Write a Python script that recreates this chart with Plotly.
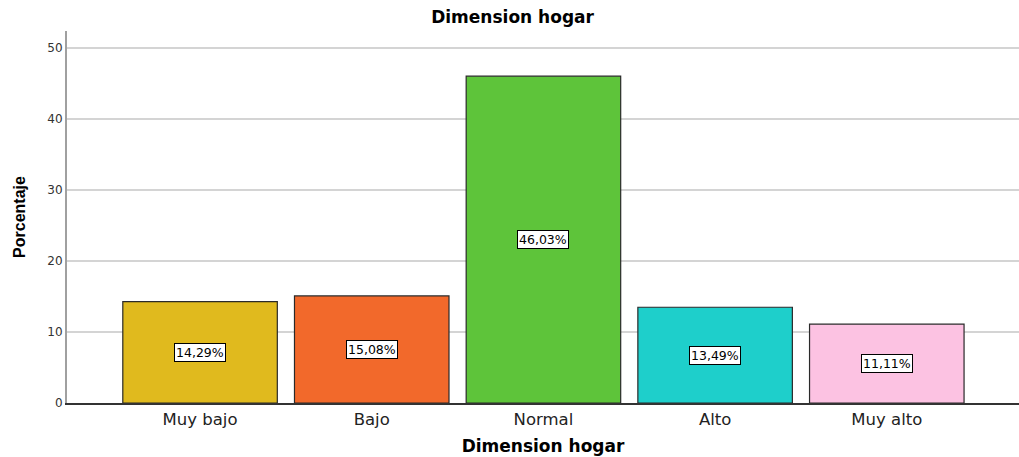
import plotly.graph_objects as go

categories = ["Muy bajo", "Bajo", "Normal", "Alto", "Muy alto"]
percentages = [14.29, 15.08, 46.03, 13.49, 11.11]
bar_colors = ["#E0BA1E", "#F2692B", "#5EC43A", "#1ECFCB", "#FCC2E2"]
y_ticks = [0, 10, 20, 30, 40, 50]

x_pos = list(range(len(categories)))
SANS = "DejaVu Sans, Arial"

fig = go.Figure()
fig.add_trace(go.Bar(
    x=x_pos,
    y=percentages,
    width=0.9,
    marker=dict(color=bar_colors, line=dict(color="#2a2a2a", width=1.2)),
    hoverinfo="skip",
))

# value labels in white boxes at the middle of each bar
for xi, v in zip(x_pos, percentages):
    fig.add_annotation(
        x=xi, y=v / 2,
        text=f"{v:.2f}".replace(".", ",") + "%",
        showarrow=False,
        font=dict(family=SANS, size=12.5, color="#000"),
        bgcolor="white",
        bordercolor="#000",
        borderwidth=1,
        borderpad=1,
    )

fig.update_layout(
    width=1019, height=457,
    margin=dict(l=67, r=0, t=31, b=54),
    paper_bgcolor="white",
    plot_bgcolor="white",
    showlegend=False,
    title=dict(
        text="<b>Dimension hogar</b>",
        x=0.503, xanchor="center", xref="container",
        y=0.962, yanchor="middle", yref="container",
        font=dict(family=SANS, size=17, color="#000"),
    ),
    xaxis=dict(
        range=[-0.775, 4.77],
        tickmode="array",
        tickvals=x_pos,
        ticktext=categories,
        showgrid=False,
        zeroline=False,
        showline=True,
        linecolor="#333",
        linewidth=1.5,
        ticks="",
        tickfont=dict(family=SANS, size=16.5, color="#222"),
        title=dict(
            text="<b>Dimension hogar</b>",
            standoff=13,
            font=dict(family=SANS, size=17, color="#000"),
        ),
    ),
    yaxis=dict(
        range=[0, 52.4],
        tickvals=y_ticks,
        showgrid=True,
        gridcolor="#d4d4d4",
        gridwidth=1.5,
        zeroline=False,
        showline=True,
        linecolor="#a0a0a0",
        linewidth=2,
        ticks="",
        tickfont=dict(family=SANS, size=12, color="#333"),
        title=dict(
            text="<b>Porcentaje</b>",
            standoff=18,
            font=dict(family="Liberation Sans Narrow, Liberation Sans, Arial", size=16, color="#000"),
        ),
    ),
)

fig.write_html("out.html")
